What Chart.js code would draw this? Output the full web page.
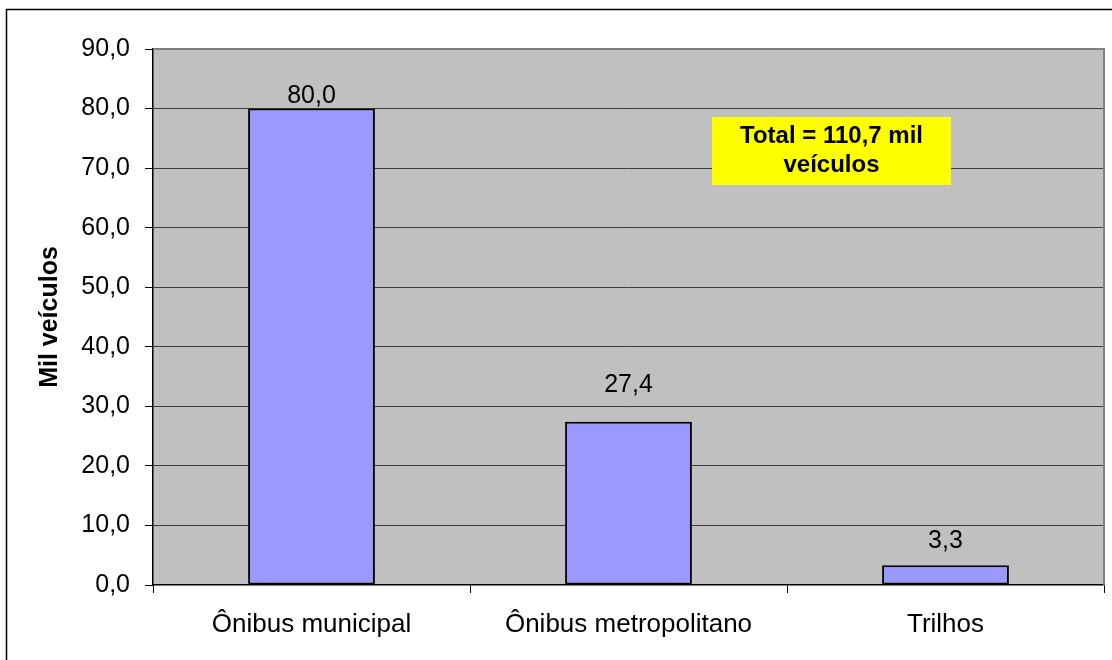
<!DOCTYPE html>
<html>
<head>
<meta charset="utf-8">
<script src="https://cdn.jsdelivr.net/npm/chart.js@4.4.1/dist/chart.umd.min.js"></script>
<style>
  html, body { margin: 0; padding: 0; background: #ffffff; }
  #wrap { width: 1112px; height: 660px; }
</style>
</head>
<body>
<div id="wrap"><canvas id="chart" width="1112" height="660"></canvas></div>
<script>
// Frota por modo de transporte (mil veículos)
const categories = ['Ônibus municipal', 'Ônibus metropolitano', 'Trilhos'];
const vehicles = [80.0, 27.4, 3.3];
const yTickValues = [0, 10, 20, 30, 40, 50, 60, 70, 80, 90];
const totalNote = ['Total = 110,7 mil', 'veículos'];
const axisTitle = 'Mil veículos';

const FONT = "'Liberation Sans', Arial, sans-serif";
const fmt = v => v.toFixed(1).replace('.', ',');

// White page with the outer frame of the chart object
const framePlugin = {
  id: 'frame',
  beforeDraw(chart) {
    const { ctx, width, height, chartArea: a } = chart;
    ctx.save();
    ctx.fillStyle = '#ffffff';
    ctx.fillRect(0, 0, width, height);
    ctx.strokeStyle = '#000000';
    ctx.lineWidth = 1.5;
    ctx.beginPath();
    ctx.moveTo(6.5, height + 2);
    ctx.lineTo(6.5, 9.5);
    ctx.lineTo(width + 2, 9.5);
    ctx.stroke();
    // grey plot area
    ctx.fillStyle = '#c0c0c0';
    ctx.fillRect(a.left, a.top, a.right - a.left, a.bottom - a.top);
    ctx.restore();
  },
  beforeDatasetsDraw(chart) {
    const { ctx, chartArea: a } = chart;
    ctx.save();
    ctx.strokeStyle = '#808080';
    ctx.lineWidth = 2;
    ctx.beginPath();
    ctx.moveTo(a.left, a.top);
    ctx.lineTo(a.right, a.top);
    ctx.lineTo(a.right, a.bottom);
    ctx.stroke();
    ctx.restore();
  }
};

// Value labels above bars and the highlighted total box
const labelPlugin = {
  id: 'valueLabels',
  afterDatasetsDraw(chart, args, opts) {
    const { ctx } = chart;
    const meta = chart.getDatasetMeta(0);
    ctx.save();
    ctx.fillStyle = '#000000';
    ctx.font = '25px ' + FONT;
    ctx.textAlign = 'center';
    ctx.textBaseline = 'alphabetic';
    meta.data.forEach((bar, i) => {
      const lift = opts.lift[i] ?? 8;
      ctx.fillText(fmt(vehicles[i]), bar.x, bar.y - lift);
    });

    // total box
    const b = opts.box;
    ctx.fillStyle = '#ffff00';
    ctx.fillRect(b.x, b.y, b.w, b.h);
    ctx.fillStyle = '#000000';
    ctx.font = 'bold 24px ' + FONT;
    totalNote.forEach((line, k) => {
      ctx.fillText(line, b.x + b.w / 2, b.y + 26 + k * 29);
    });
    ctx.restore();
  }
};

new Chart(document.getElementById('chart'), {
  type: 'bar',
  data: {
    labels: categories,
    datasets: [{
      data: vehicles,
      backgroundColor: '#9999ff',
      borderColor: '#000000',
      borderWidth: 2,
      borderSkipped: false,
      categoryPercentage: 1.0,
      barPercentage: 0.4
    }]
  },
  options: {
    responsive: false,
    animation: false,
    events: [],
    layout: { padding: { top: 49, right: 8, left: 0, bottom: 0 } },
    plugins: {
      legend: { display: false },
      tooltip: { enabled: false },
      valueLabels: {
        lift: [6, 30, 17],
        box: { x: 712, y: 117, w: 239, h: 68 }
      }
    },
    scales: {
      x: {
        offset: true,
        grid: {
          offset: true,
          drawOnChartArea: false,
          drawTicks: true,
          tickLength: 8,
          tickColor: '#000000'
        },
        border: { display: true, color: '#000000', width: 1.5 },
        ticks: {
          color: '#000000',
          font: { family: FONT, size: 26 },
          padding: 16,
          maxRotation: 0
        },
        afterFit(scale) { scale.height = 75; }
      },
      y: {
        min: 0,
        max: 90,
        afterBuildTicks(scale) {
          scale.ticks = yTickValues.map(v => ({ value: v }));
        },
        grid: {
          color: ctx => (ctx.tick && (ctx.tick.value === 0 || ctx.tick.value === 90)) ? 'rgba(0,0,0,0)' : '#3c3c3c',
          lineWidth: 1,
          tickLength: 8,
          tickColor: '#000000'
        },
        border: { display: true, color: '#000000', width: 1.5 },
        ticks: {
          color: '#000000',
          font: { family: FONT, size: 25 },
          padding: 15,
          callback: v => fmt(v)
        },
        title: {
          display: true,
          text: axisTitle,
          color: '#000000',
          font: { family: FONT, size: 25, weight: 'bold' },
          padding: { top: 35, bottom: 0 }
        },
        afterFit(scale) { scale.width = 153; }
      }
    }
  },
  plugins: [framePlugin, labelPlugin]
});
</script>
</body>
</html>
